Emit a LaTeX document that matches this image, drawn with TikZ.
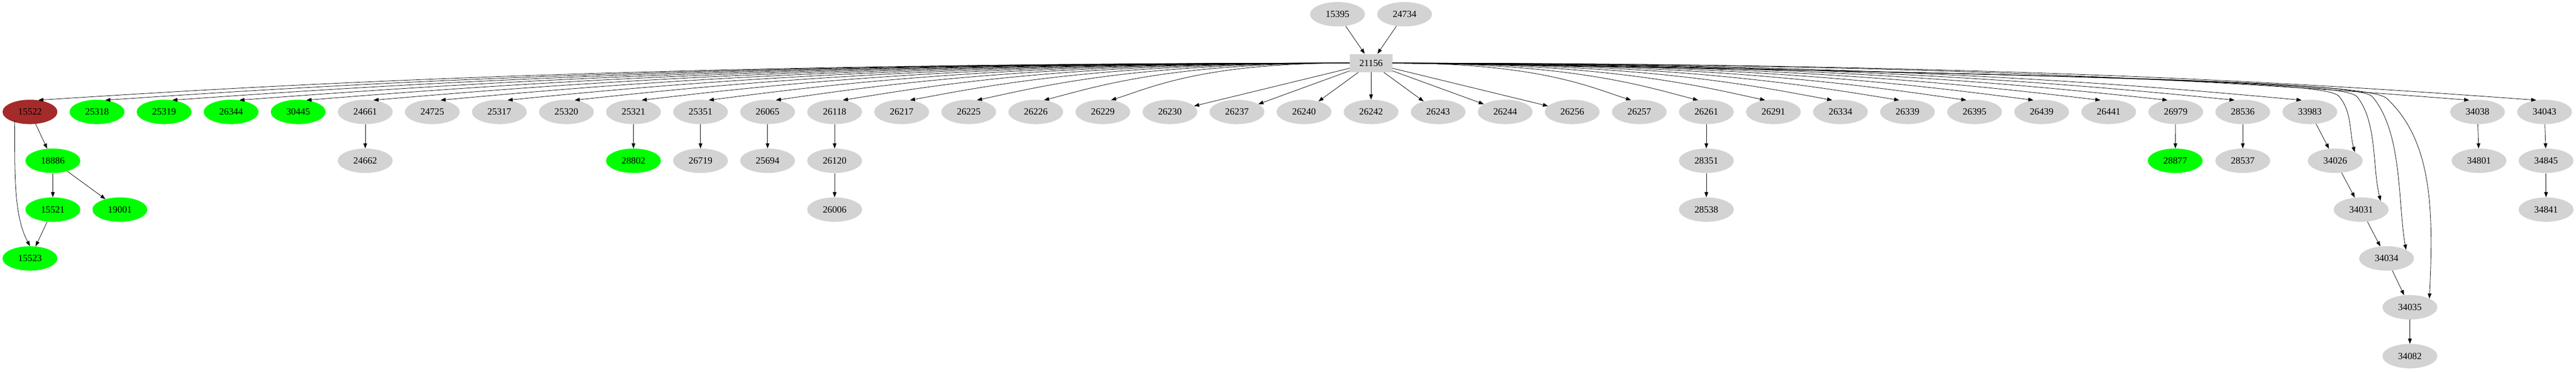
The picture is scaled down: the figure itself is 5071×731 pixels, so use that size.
\documentclass[tikz,border=0pt]{standalone}
\usepackage{fontspec}
\setmainfont{Liberation Serif}
\usetikzlibrary{arrows.meta,shapes.geometric}
\definecolor{gv}{HTML}{D3D3D3}
\definecolor{gg}{HTML}{00FF00}
\definecolor{gb}{HTML}{A52A2A}
\begin{document}
\begin{tikzpicture}[x={(0.75pt,0)},y={(0,-0.75pt)},
  nd/.style={ellipse,fill=gv,minimum width=81pt,minimum height=36pt,inner sep=0pt,font=\fontsize{14}{16}\selectfont},
  gn/.style={nd,fill=gg},
  bn/.style={nd,fill=gb},
  ar/.style={-{Triangle[length=7.5pt,width=5.5pt]},line width=0.6pt}]
\useasboundingbox (0,0) rectangle (5071,731);
\node[nd] (n15395) at (2633,28) {15395};
\node[nd] (n24734) at (2765,28) {24734};
\node[fill=gv,minimum width=63pt,minimum height=27pt,inner sep=0pt,font=\fontsize{14}{16}\selectfont] (h) at (2699,124) {21156};
\draw[ar] (n15395) -- (h);
\draw[ar] (n24734) -- (h);
\foreach \lab/\i/\st in {15522/0/bn,25318/1/gn,25319/2/gn,26344/3/gn,30445/4/gn,24661/5/nd,24725/6/nd,25317/7/nd,25320/8/nd,25321/9/nd,25351/10/nd,26065/11/nd,26118/12/nd,26217/13/nd,26225/14/nd,26226/15/nd,26229/16/nd,26230/17/nd,26237/18/nd,26240/19/nd,26242/20/nd,26243/21/nd,26244/22/nd,26256/23/nd,26257/24/nd,26261/25/nd,26291/26/nd,26334/27/nd,26339/28/nd,26395/29/nd,26439/30/nd,26441/31/nd,26979/32/nd,28536/33/nd,33983/34/nd,34038/36.5/nd,34043/37.5/nd}{
  \node[\st] (n\lab) at ({59+132*\i},220) {\lab};
  \pgfmathsetmacro{\dd}{\i-20}
  \pgfmathsetmacro{\ca}{abs(\dd)*132*0.55}
  \pgfmathsetmacro{\cb}{abs(\dd)*132*0.15}
  \ifdim \dd pt<-3.5pt
    \draw[ar] (h.west) .. controls +(-\ca,0) and +(\cb,-25) .. (n\lab.55);
  \else\ifdim \dd pt>3.5pt
    \draw[ar] (h.east) .. controls +(\ca,0) and +(-\cb,-25) .. (n\lab.125);
  \else
    \draw[ar] (h) -- (n\lab);
  \fi\fi
}
% lower nodes
\node[gn] (n18886) at (104,316) {18886};
\node[gn] (n15521) at (104,412) {15521};
\node[gn] (n19001) at (236,412) {19001};
\node[gn] (n15523) at (59,508) {15523};
\node[nd] (n24662) at (719,316) {24662};
\node[gn] (n28802) at (1247,316) {28802};
\node[nd] (n26719) at (1379,316) {26719};
\node[nd] (n25694) at (1511,316) {25694};
\node[nd] (n26120) at (1643,316) {26120};
\node[nd] (n26006) at (1643,412) {26006};
\node[nd] (n28351) at (3359,316) {28351};
\node[nd] (n28538) at (3359,412) {28538};
\node[gn] (n28877) at (4282,316) {28877};
\node[nd] (n28537) at (4415,316) {28537};
\node[nd] (n34026) at (4597,316) {34026};
\node[nd] (n34031) at (4648,412) {34031};
\node[nd] (n34034) at (4698,508) {34034};
\node[nd] (n34035) at (4744,604) {34035};
\node[nd] (n34082) at (4744,700) {34082};
\node[nd] (n34801) at (4880,316) {34801};
\node[nd] (n34845) at (5012,316) {34845};
\node[nd] (n34841) at (5012,412) {34841};
\draw[ar] (n15522) -- (n18886);
\draw[ar] (n15522.south west) ++(8,0) .. controls (30,330) and (25,420) .. (n15523.north);
\draw[ar] (n18886) -- (n15521);
\draw[ar] (n18886) -- (n19001);
\draw[ar] (n15521) -- (n15523);
\draw[ar] (n24661) -- (n24662);
\draw[ar] (n25321) -- (n28802);
\draw[ar] (n25351) -- (n26719);
\draw[ar] (n26065) -- (n25694);
\draw[ar] (n26118) -- (n26120);
\draw[ar] (n26120) -- (n26006);
\draw[ar] (n26261) -- (n28351);
\draw[ar] (n28351) -- (n28538);
\draw[ar] (n26979) -- (n28877);
\draw[ar] (n28536) -- (n28537);
\draw[ar] (n33983) -- (n34026);
\draw[ar] (n34026) -- (n34031);
\draw[ar] (n34031) -- (n34034);
\draw[ar] (n34034) -- (n34035);
\draw[ar] (n34035) -- (n34082);
\draw[ar] (n34038) -- (n34801);
\draw[ar] (n34043) -- (n34845);
\draw[ar] (n34845) -- (n34841);
\draw[ar] (h.east) .. controls (4450,150) and (4590,170) .. (4605,190) .. controls (4630,220) and (4625,260) .. (n34026.north east);
\draw[ar] (h.east) .. controls (4450,150) and (4620,170) .. (4640,190) .. controls (4680,240) and (4670,330) .. (n34031.north east);
\draw[ar] (h.east) .. controls (4450,150) and (4650,170) .. (4670,190) .. controls (4730,260) and (4720,400) .. (n34034.north east);
\draw[ar] (h.east) .. controls (4450,150) and (4680,170) .. (4700,195) .. controls (4790,280) and (4790,420) .. (n34035.north east);
\end{tikzpicture}
\end{document}
